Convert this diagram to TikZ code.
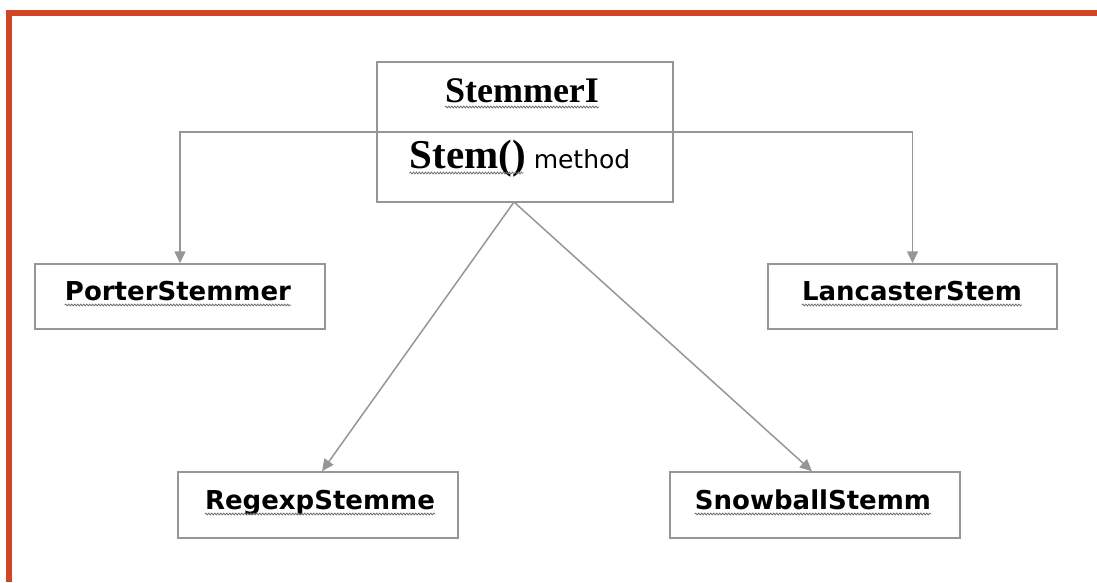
\documentclass[tikz,border=0pt]{standalone}
\usepackage{fontspec}
\setmainfont{Liberation Serif}
\newfontfamily\verd{DejaVu Sans}
\usetikzlibrary{arrows.meta,calc,decorations.pathmorphing}
\definecolor{frame}{RGB}{208,68,40}
\definecolor{wire}{RGB}{150,150,150}
\definecolor{squiggle}{RGB}{110,110,110}
\begin{document}
\begin{tikzpicture}[x=1pt,y=-1pt,
  box/.style={draw=wire,line width=1.5pt,rectangle,inner sep=0pt},
  link/.style={draw=wire,line width=1.5pt,-{Triangle[length=12pt,width=11pt]}},
  cls/.style={font=\verd\bfseries\fontsize{26}{30}\selectfont,inner sep=0pt,anchor=base},
  squig/.style={draw=squiggle,line width=0.8pt,decorate,
    decoration={snake,amplitude=0.9pt,segment length=3pt}}]
\useasboundingbox (0,0) rectangle (1097,582);
% outer frame
\draw[frame,line width=6pt] (9,582) -- (9,13) -- (1097,13);

% interface box with divider
\node[box,minimum width=296pt,minimum height=140pt] (iface) at (525,132) {};
\draw[wire,line width=1.5pt] (iface.west) -- (iface.east);
\node[inner sep=0pt,anchor=base,font=\bfseries\fontsize{36}{40}\selectfont] (title) at (522,102) {StemmerI};
\node[inner sep=0pt,anchor=base] (meth) at (520,168)
  {\bfseries\fontsize{41}{44}\selectfont Stem()\mdseries\verd\fontsize{25}{28}\selectfont\ method};
\coordinate (mstemend) at ($(meth.base west)+(114,0)$);

% implementing classes
\node[box,minimum width=290pt,minimum height=65pt] (porter) at (180,296.5) {};
\node[box,minimum width=289pt,minimum height=65pt] (lanc) at (912.5,296.5) {};
\node[box,minimum width=280pt,minimum height=66pt] (regexp) at (318,505) {};
\node[box,minimum width=290pt,minimum height=66pt] (snow) at (815,505) {};

\node[cls] (tporter) at (178,300) {PorterStemmer};
\node[cls] (tlanc) at (912,300) {LancasterStem};
\node[cls] (tregexp) at (320,509) {RegexpStemme};
\node[cls] (tsnow) at (813,509) {SnowballStemm};

% spelling squiggles
\draw[squig] ($(title.base west)+(0,5)$) -- ($(title.base east)+(0,5)$);
\draw[squig] ($(meth.base west)+(0,5)$) -- ($(mstemend)+(0,5)$);
\foreach \t in {tporter,tlanc,tregexp,tsnow}
  \draw[squig] ($(\t.base west)+(0,5)$) -- ($(\t.base east)+(0,5)$);

% connectors
\coordinate (apex) at (514,202);
\draw[link] (iface.west) -| (porter.north);
\draw[link] (iface.east) -| (lanc.north);
\draw[link] (apex) -- (regexp.north -| 322,0);
\draw[link] (apex) -- (snow.north -| 812,0);
\end{tikzpicture}
\end{document}
